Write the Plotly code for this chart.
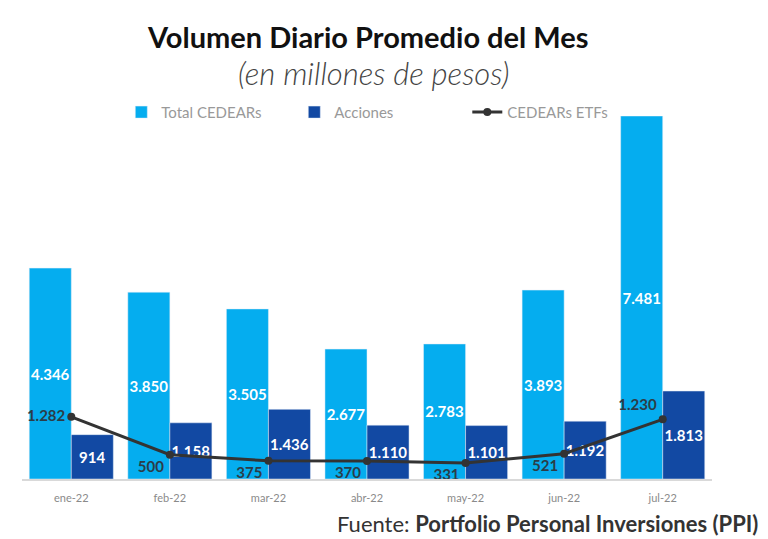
import plotly.graph_objects as go

categories = ["ene-22", "feb-22", "mar-22", "abr-22", "may-22", "jun-22", "jul-22"]
total_cedears = [4346, 3850, 3505, 2677, 2783, 3893, 7481]
acciones = [914, 1158, 1436, 1110, 1101, 1192, 1813]
cedears_etfs = [1282, 500, 375, 370, 331, 521, 1230]
etf_label_pos = ["middle left", "bottom left", "bottom left", "bottom left",
                 "bottom left", "bottom left", "top left"]


def fmt(v):
    return f"{v:,}".replace(",", ".")


LIGHT = "#05adef"
DARK = "#1249a3"
FONT = "Lato"

fig = go.Figure()
fig.add_trace(go.Bar(
    name="Total CEDEARs", x=categories, y=total_cedears,
    marker_color=LIGHT,
    text=[fmt(v) for v in total_cedears],
    textposition="inside", insidetextanchor="middle", textangle=0,
    textfont=dict(color="white", size=15, family=FONT, weight="bold"),
    hoverinfo="skip",
))
fig.add_trace(go.Bar(
    name="Acciones", x=categories, y=acciones,
    marker_color=DARK,
    text=[fmt(v) for v in acciones],
    textposition="inside", insidetextanchor="middle", textangle=0,
    textfont=dict(color="white", size=15, family=FONT, weight="bold"),
    hoverinfo="skip",
))
fig.add_trace(go.Scatter(
    name="CEDEARs ETFs", x=categories, y=cedears_etfs,
    mode="lines+markers+text",
    line=dict(color="#333333", width=3),
    marker=dict(color="#333333", size=8),
    text=[fmt(v) for v in cedears_etfs],
    textposition=etf_label_pos,
    textfont=dict(color="#2b3d48", size=15, family=FONT, weight="bold"),
    cliponaxis=False,
))

fig.update_layout(
    width=760, height=531,
    autosize=False,
    paper_bgcolor="white", plot_bgcolor="white",
    margin=dict(l=14, r=56, t=108, b=60),
    barmode="group", bargap=0.147, bargroupgap=0,
    font=dict(family=FONT, color="#333333"),
    uniformtext=dict(minsize=15, mode="show"),
    showlegend=True,
    legend=dict(
        orientation="h", x=0.52, xanchor="center", y=1.01, yanchor="middle",
        font=dict(size=15, color="#999999", family=FONT),
        bgcolor="rgba(0,0,0,0)", traceorder="normal",
        entrywidth=128,
    ),
    xaxis=dict(
        showgrid=False, showline=True, linecolor="#d9d9d9", linewidth=2,
        ticks="", ticklabelstandoff=8,
        tickfont=dict(size=11, color="#8a8a8a", family=FONT),
    ),
    yaxis=dict(visible=False, range=[0, 7481], showgrid=False),
    annotations=[
        dict(text="<b>Volumen Diario Promedio del Mes</b>", xref="paper", yref="paper",
             x=0.5, y=1, xanchor="center", yanchor="middle", yshift=80,
             showarrow=False, font=dict(size=29, color="#111111", family=FONT)),
        dict(text="<i>(en millones de pesos)</i>", xref="paper", yref="paper",
             x=0.51, y=1, xanchor="center", yanchor="middle", yshift=43,
             showarrow=False, font=dict(size=31, color="#444444", family=FONT, weight=300)),
        dict(text="Fuente: <b>Portfolio Personal Inversiones (PPI)</b>", xref="paper", yref="paper",
             x=1, y=0, xanchor="right", yanchor="middle", xshift=48, yshift=-44,
             showarrow=False, font=dict(size=22, color="#333333", family=FONT)),
    ],
)

fig.write_html("out.html")
